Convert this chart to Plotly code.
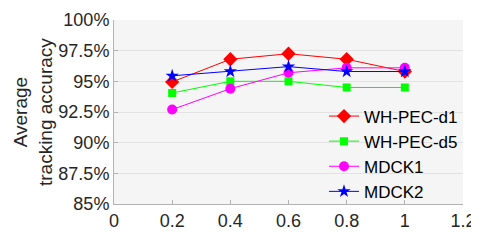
import plotly.graph_objects as go

kappa = [0.2, 0.4, 0.6, 0.8, 1.0]
wh_pec_d1 = [94.95, 96.8, 97.25, 96.8, 95.8]
wh_pec_d5 = [94.05, 95.0, 95.0, 94.5, 94.5]
mdck1 = [92.7, 94.4, 95.7, 96.1, 96.1]
mdck2 = [95.45, 95.8, 96.2, 95.8, 95.8]

series = [
    ("WH-PEC-d1", wh_pec_d1, "#ff0000", "diamond", 11),
    ("WH-PEC-d5", wh_pec_d5, "#00ff00", "square", 8),
    ("MDCK1", mdck1, "#ff00ff", "circle", 10),
    ("MDCK2", mdck2, "#0000ff", "star", 10),
]

y_ticks = [85, 87.5, 90, 92.5, 95, 97.5, 100]
y_tick_labels = ["85%", "87.5%", "90%", "92.5%", "95%", "97.5%", "100%"]
x_ticks = [0, 0.2, 0.4, 0.6, 0.8, 1.0, 1.2]
x_tick_labels = ["0", "0.2", "0.4", "0.6", "0.8", "1", "1.2"]

fig = go.Figure()
for name, vals, color, sym, size in series:
    fig.add_trace(go.Scatter(
        x=kappa, y=vals, name=name, mode="lines+markers",
        line=dict(color=color, width=1),
        marker=dict(color=color, symbol=sym, size=size, line=dict(width=0)),
    ))

font_family = "Liberation Sans, Arial, sans-serif"
# the page body has a default 8px margin, so the figure is sized/offset to compensate
fig.update_layout(
    width=471, height=242,
    margin=dict(l=106, r=16, t=12, b=46),
    paper_bgcolor="white",
    plot_bgcolor="#f5f5f5",
    font=dict(family=font_family, size=18, color="#262626"),
    showlegend=True,
    legend=dict(
        x=1, y=-0.03, xanchor="right", yanchor="bottom",
        bgcolor="rgba(0,0,0,0)", borderwidth=0,
        font=dict(size=17, color="#000000"),
        itemwidth=30, tracegroupgap=0,
    ),
    xaxis=dict(
        range=[0, 1.2], tickvals=x_ticks, ticktext=x_tick_labels,
        showgrid=False, zeroline=False, automargin=False,
        showline=True, linecolor="#b3b3b3", linewidth=1,
        ticks="inside", ticklen=4, tickcolor="#b3b3b3",
    ),
    yaxis=dict(
        range=[85, 100], tickvals=y_ticks, ticktext=y_tick_labels,
        showgrid=True, gridcolor="#e2e2e2", gridwidth=1, zeroline=False,
        automargin=False,
        showline=True, linecolor="#b3b3b3", linewidth=1,
        ticks="inside", ticklen=4, tickcolor="#b3b3b3",
    ),
    annotations=[
        dict(text="Average<br>tracking accuracy", xref="paper", yref="paper",
             x=-0.232, y=0.5, xanchor="center", yanchor="middle",
             textangle=-90, showarrow=False, font=dict(size=19, color="#262626")),
        dict(text="<i>κ</i>", xref="paper", yref="paper",
             x=0.5, y=-0.2, xanchor="center", yanchor="top",
             showarrow=False, font=dict(size=19, color="#262626")),
    ],
)

fig.write_html("out.html")
